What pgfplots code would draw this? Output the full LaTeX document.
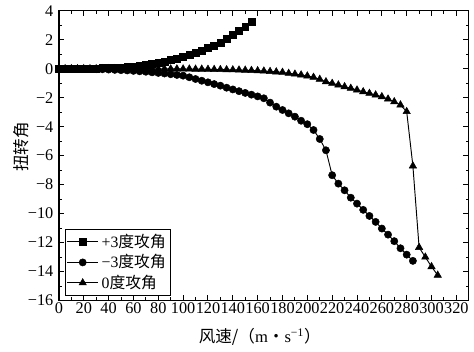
\documentclass[border=0pt]{standalone}
\usepackage{fontspec}
\setmainfont{Liberation Serif}
\newfontfamily\cjk{Noto Sans CJK SC}
\usepackage{pgfplots}
\pgfplotsset{compat=1.18}
\begin{document}
\begin{tikzpicture}
\begin{axis}[
  scale only axis,
  width=259.5pt, height=183.5pt,
  xmin=0, xmax=330, ymin=-16, ymax=4,
  xtick={0,20,...,320},
  xticklabels={0,20,40,60,80,100,120,140,160,180,200,220,240,260,280,300,320},
  ytick={-16,-14,...,4},
  yticklabels={−16,−14,−12,−10,−8,−6,−4,−2,0,2,4},
  minor x tick num=1, minor y tick num=1,
  tick align=inside,
  major tick length=3.5pt, minor tick length=2pt,
  axis line style={line width=0.8pt},
  every tick/.style={black, line width=0.6pt},
  tick label style={font=\fontsize{10.3}{12}\selectfont},
  xticklabel style={inner sep=1pt},
  xlabel={{\cjk 风速/（}m{\cjk ・}s\textsuperscript{−1}{\cjk ）}},
  ylabel={\cjk 扭转角},
  xlabel style={at={(axis description cs:0.49,-0.127)}, anchor=center, font=\fontsize{10.5}{12}\selectfont},
  ylabel style={at={(axis description cs:-0.092,0.53)}, anchor=center, font=\fontsize{10.5}{12}\selectfont},
  legend style={at={(0.0146,0.016)}, anchor=south west, draw=black, line width=0.6pt,
    font=\fontsize{10}{11}\selectfont, inner sep=1pt, row sep=-1pt},
  legend cell align=left,
  legend image code/.code={\draw[mark repeat=2,mark phase=2] plot coordinates {(0cm,0cm) (0.34cm,0cm) (0.68cm,0cm)};},
  every axis plot/.append style={black, line width=0.6pt},
]
\addplot[mark=square*, mark size=2.2pt, mark options={solid, line width=0.3pt}] coordinates {
(0,0) (5,0.000) (10,0.001) (15,0.003) (20,0.007) (25,0.013) (30,0.022) (35,0.035)
(40,0.052) (45,0.075) (50,0.10) (55,0.13) (60,0.17) (65,0.22) (70,0.28) (75,0.34)
(80,0.41) (85,0.50) (90,0.60) (95,0.70) (100,0.81) (105,0.94) (110,1.08) (115,1.24)
(120,1.42) (125,1.61) (130,1.82) (135,2.06) (140,2.34) (145,2.62) (150,2.91) (155,3.22)
};
\addlegendentry{+3{\cjk 度攻角}}
\addplot[mark=*, mark size=2.3pt, mark options={solid, line width=0.3pt}] coordinates {
(0,0) (5,0) (10,-0.005) (15,-0.01) (20,-0.015) (25,-0.02) (30,-0.03) (35,-0.04)
(40,-0.06) (45,-0.08) (50,-0.10) (55,-0.12) (60,-0.15) (65,-0.18) (70,-0.21) (75,-0.25)
(80,-0.29) (85,-0.33) (90,-0.38) (95,-0.43) (100,-0.48) (105,-0.59) (110,-0.71) (115,-0.83)
(120,-0.94) (125,-1.06) (130,-1.17) (135,-1.31) (140,-1.43) (145,-1.55) (150,-1.67) (155,-1.79)
(160,-1.91) (165,-2.04) (170,-2.34) (175,-2.62) (180,-2.85) (185,-3.08) (190,-3.31) (195,-3.59)
(200,-3.83) (205,-4.23) (210,-4.85) (215,-5.63) (220,-7.35) (225,-7.93) (230,-8.39) (235,-8.90)
(240,-9.31) (245,-9.74) (250,-10.16) (255,-10.57) (260,-11.03) (265,-11.45) (270,-11.90) (275,-12.39)
(280,-12.83) (285,-13.26)
};
\addlegendentry{−3{\cjk 度攻角}}
\addplot[mark=triangle*, mark size=2.7pt, mark options={solid, line width=0.3pt}] coordinates {
(0,0) (5,0) (10,0) (15,0) (20,0) (25,0) (30,0) (35,0) (40,0) (45,0) (50,0) (55,0)
(60,0) (65,0) (70,0) (75,-0.005) (80,-0.01) (85,-0.01) (90,-0.015) (95,-0.015)
(100,-0.02) (105,-0.02) (110,-0.03) (115,-0.03) (120,-0.04) (125,-0.05) (130,-0.06) (135,-0.07)
(140,-0.08) (145,-0.09) (150,-0.10) (155,-0.12) (160,-0.14) (165,-0.16) (170,-0.19) (175,-0.22)
(180,-0.25) (185,-0.32) (190,-0.37) (195,-0.43) (200,-0.50) (205,-0.59) (210,-0.73) (215,-0.90)
(220,-1.01) (225,-1.12) (230,-1.24) (235,-1.35) (240,-1.47) (245,-1.59) (250,-1.70) (255,-1.81)
(260,-1.93) (265,-2.09) (270,-2.28) (275,-2.50) (280,-2.96) (285,-6.71) (290,-12.33) (295,-13.0)
(300,-13.66) (305,-14.25)
};
\addlegendentry{0{\cjk 度攻角}}
\end{axis}
\pgfresetboundingbox
\path ([shift={(-37.3pt,-32.5pt)}]current axis.south west) rectangle ([shift={(3.3pt,6.8pt)}]current axis.north east);
\end{tikzpicture}
\end{document}
